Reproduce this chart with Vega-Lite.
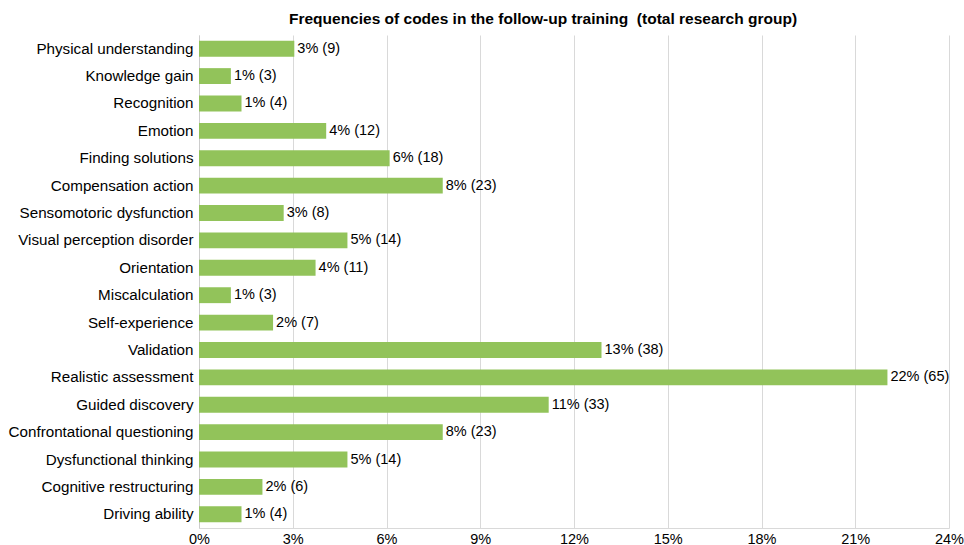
{
  "$schema": "https://vega.github.io/schema/vega-lite/v6.json",
  "width": 750,
  "height": 493,
  "autosize": "none",
  "padding": {"left": 199, "top": 35, "right": 15, "bottom": 17},
  "background": "white",
  "config": {"font": "Liberation Sans", "view": {"stroke": null}},
  "title": {
    "text": "Frequencies of codes in the follow-up training \u00a0(total research group)",
    "fontSize": 15.5,
    "fontWeight": "bold",
    "color": "#000000",
    "anchor": "middle",
    "dx": -31,
    "offset": 8
  },
  "data": {
    "values": [
      {"code": "Physical understanding", "pct": 3.05, "label": "3% (9)"},
      {"code": "Knowledge gain", "pct": 1.02, "label": "1% (3)"},
      {"code": "Recognition", "pct": 1.36, "label": "1% (4)"},
      {"code": "Emotion", "pct": 4.07, "label": "4% (12)"},
      {"code": "Finding solutions", "pct": 6.10, "label": "6% (18)"},
      {"code": "Compensation action", "pct": 7.80, "label": "8% (23)"},
      {"code": "Sensomotoric dysfunction", "pct": 2.71, "label": "3% (8)"},
      {"code": "Visual perception disorder", "pct": 4.75, "label": "5% (14)"},
      {"code": "Orientation", "pct": 3.73, "label": "4% (11)"},
      {"code": "Miscalculation", "pct": 1.02, "label": "1% (3)"},
      {"code": "Self-experience", "pct": 2.37, "label": "2% (7)"},
      {"code": "Validation", "pct": 12.88, "label": "13% (38)"},
      {"code": "Realistic assessment", "pct": 22.03, "label": "22% (65)"},
      {"code": "Guided discovery", "pct": 11.19, "label": "11% (33)"},
      {"code": "Confrontational questioning", "pct": 7.80, "label": "8% (23)"},
      {"code": "Dysfunctional thinking", "pct": 4.75, "label": "5% (14)"},
      {"code": "Cognitive restructuring", "pct": 2.03, "label": "2% (6)"},
      {"code": "Driving ability", "pct": 1.36, "label": "1% (4)"}
    ]
  },
  "encoding": {
    "y": {
      "field": "code",
      "type": "nominal",
      "sort": null,
      "scale": {"paddingInner": 0.42, "paddingOuter": 0.21},
      "axis": {
        "title": null,
        "ticks": false,
        "labelFontSize": 15.2,
        "labelColor": "#000000",
        "labelPadding": 6,
        "domainColor": "#cccccc",
        "labelLimit": 250
      }
    },
    "x": {
      "field": "pct",
      "type": "quantitative",
      "scale": {"domain": [0, 24], "nice": false},
      "axis": {
        "title": null,
        "values": [0, 3, 6, 9, 12, 15, 18, 21, 24],
        "labelExpr": "datum.value + '%'",
        "labelFontSize": 14.5,
        "labelColor": "#000000",
        "labelPadding": 4,
        "labelFlush": false,
        "ticks": false,
        "grid": true,
        "gridColor": "#d9d9d9",
        "domainColor": "#d9d9d9"
      }
    }
  },
  "layer": [
    {"mark": {"type": "bar", "color": "#92c35a"}},
    {
      "mark": {"type": "text", "align": "left", "baseline": "middle", "dx": 3, "fontSize": 14.5, "color": "#000000"},
      "encoding": {"text": {"field": "label"}}
    }
  ]
}
